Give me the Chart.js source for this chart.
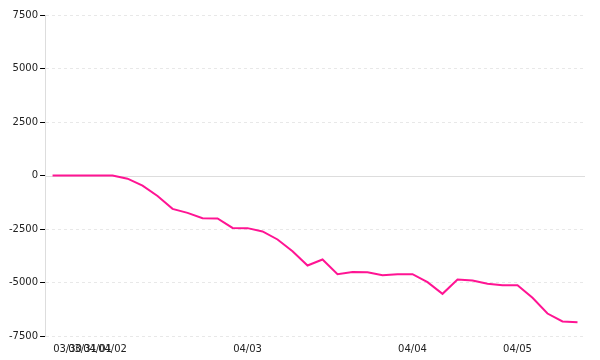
<!DOCTYPE html>
<html>
<head>
<meta charset="utf-8">
<script src="https://cdn.jsdelivr.net/npm/chart.js@4"></script>
<style>
  html, body { margin: 0; padding: 0; background: #fff; }
</style>
</head>
<body>
<canvas id="chart" width="600" height="360"></canvas>
<script>
// One label per point; blank where the original shows no date.
const categories = [
    '', '03/30', '03/31', '04/01', '04/02', '', '', '', '', '', '', '', '',
    '04/03', '', '', '', '', '', '', '', '', '', '',
    '04/04', '', '', '', '', '', '',
    '04/05', '', '', '', ''
];
const values = [
    0, 0, 0, 0, 0, -150, -470, -960, -1560, -1745, -2000, -2010,
    -2450, -2460, -2615, -2990, -3540, -4205, -3925, -4610, -4515, -4520,
    -4660, -4610, -4610, -4985, -5530, -4860, -4905, -5060, -5125, -5125,
    -5715, -6450, -6820, -6855
];
const yTicks = [ -7500, -5000, -2500, 0, 2500, 5000, 7500 ];

// Solid line at zero, under the data.
const zeroLine = {
    id: 'zeroLine',
    beforeDatasetsDraw: function( chart ) {
        const ctx = chart.ctx;
        const area = chart.chartArea;
        const y = Math.round( chart.scales.y.getPixelForValue( 0 ) ) + 0.5;
        ctx.save();
        ctx.strokeStyle = '#dddddd';
        ctx.lineWidth = 1;
        ctx.beginPath();
        ctx.moveTo( area.left, y );
        ctx.lineTo( area.right, y );
        ctx.stroke();
        ctx.restore();
    }
};

new Chart( document.getElementById( 'chart' ), {
    type: 'line',
    data: {
        labels: categories,
        datasets: [{
            data: values,
            borderColor: '#ff1493',
            borderWidth: 2,
            pointRadius: 0,
            tension: 0,
            fill: false
        }]
    },
    options: {
        responsive: false,
        animation: false,
        layout: { padding: { top: 15, right: 15, left: 7, bottom: -2 } },
        plugins: {
            legend: { display: false },
            tooltip: { enabled: false }
        },
        scales: {
            x: {
                offset: true,
                grid: { display: false, drawTicks: false },
                border: { display: false },
                ticks: {
                    autoSkip: false,
                    maxRotation: 0,
                    padding: 7,
                    color: '#222',
                    font: { family: 'DejaVu Sans', size: 10 }
                }
            },
            y: {
                min: -7500,
                max: 7500,
                afterBuildTicks: function( axis ) {
                    axis.ticks = yTicks.map( v => ({ value: v }) );
                },
                grid: {
                    color: function( ctx ) {
                        return ctx.tick && ctx.tick.value === 0 ? 'rgba(0,0,0,0)' : '#e8e8e8';
                    },
                    tickColor: '#000',
                    tickLength: 5,
                    tickBorderDash: []
                },
                border: { display: true, color: '#dddddd', dash: [3, 3] },
                ticks: {
                    color: '#222',
                    padding: 2,
                    font: { family: 'DejaVu Sans', size: 10 },
                    callback: function( value ) {
                        return String( value );
                    }
                }
            }
        }
    },
    plugins: [ zeroLine ]
});
</script>
</body>
</html>
